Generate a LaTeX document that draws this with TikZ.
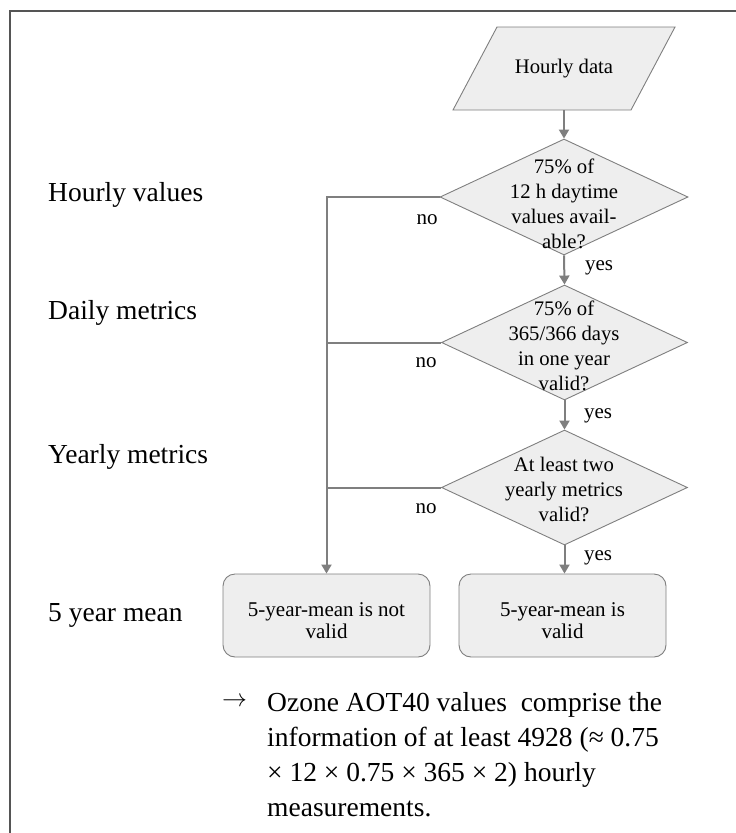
\documentclass[tikz,border=0pt]{standalone}
\usepackage{fontspec}
\setmainfont{Liberation Serif}
\usetikzlibrary{shapes.geometric,arrows.meta}
\definecolor{boxfill}{HTML}{EEEEEE}
\definecolor{lgray}{HTML}{7F7F7F}
\definecolor{fgray}{HTML}{555555}
\begin{document}
\begin{tikzpicture}[x=1pt,y=-1pt,
 decision/.style={shape=diamond, draw=lgray, fill=boxfill, line width=0.9pt, minimum width=246pt, minimum height=115pt, inner sep=0pt},
 dtext/.style={align=center, font=\fontsize{20.7}{25}\selectfont, inner sep=0pt},
 endbox/.style={rectangle, rounded corners=12pt, draw=lgray, fill=boxfill, line width=0.9pt, minimum width=207pt, minimum height=83pt, align=center, text height=46pt, font=\fontsize{21}{22}\selectfont},
 flow/.style={draw=lgray, line width=2pt, -{Triangle[width=10pt,length=9pt]}},
 joinline/.style={draw=lgray, line width=2pt},
 side/.style={anchor=west, font=\fontsize{27.5}{30}\selectfont, inner sep=0pt},
 small/.style={font=\fontsize{21}{24}\selectfont, inner sep=0pt}]
\useasboundingbox (0,0) rectangle (736,833);
% frame
\draw[fgray, line width=2pt] (10,833) -- (10,11) -- (736,11);

% start parallelogram
\draw[draw=lgray, fill=boxfill, line width=0.9pt] (497,27) -- (675,27) -- (631,110) -- (453,110) -- cycle;
\node[dtext] (hd) at (564,68.5) {Hourly data};
\coordinate (hdb) at (564,110);

% decisions
\node[decision, minimum width=248pt, minimum height=116pt] (d1) at (564,197) {};
\node[dtext] (t1) at (564,204) {75\% of\\12 h daytime\\values avail-\\able?};
\node[decision] (d2) at (564.5,342.5) {};
\node[dtext] (t2) at (564,346) {75\% of\\365/366 days\\in one year\\valid?};
\node[decision] (d3) at (564.5,487.5) {};
\node[dtext] (t3) at (564,489) {At least two\\yearly metrics\\valid?};

% end boxes
\node[endbox] (b1) at (326.5,615.5) {5-year-mean is not\\valid};
\node[endbox] (b2) at (562.5,615.5) {5-year-mean is\\valid};

% connectors
\draw[flow] (hdb) -- (d1.north);
\draw[flow] (d1.south) -- (d2.north);
\draw[flow] (d2.south) -- (d3.north);
\draw[flow] (d3.south) -- (d3.south |- b2.north);
\draw[flow] (d1.west) -- (d1.west -| b1.north) -- (b1.north);
\draw[joinline] (d2.west) -- (d2.west -| b1.north);
\draw[joinline] (d3.west) -- (d3.west -| b1.north);

% branch labels
\node[small] (n1) at (427,220) {no};
\node[small] (n2) at (426,363) {no};
\node[small] (n3) at (426,509) {no};
\node[small] (y1) at (599,268) {yes};
\node[small] (y2) at (598,416) {yes};
\node[small] (y3) at (598,558) {yes};

% side labels
\node[side] (l1) at (48,195) {Hourly values};
\node[side] (l2) at (48,313) {Daily metrics};
\node[side] (l3) at (48,457) {Yearly metrics};
\node[side] (l4) at (48,615) {5 year mean};

% note
\node[anchor=west, inner sep=0pt, font=\fontsize{27.5}{35}\selectfont] (arr) at (222,702) {$\rightarrow$};
\node[anchor=north west, inner sep=0pt, align=left, font=\fontsize{27.5}{35}\selectfont] (note) at (267,692)
 {Ozone AOT40 values \ comprise the\\information of at least 4928 (≈ 0.75\\× 12 × 0.75 × 365 × 2) hourly\\measurements.};
\end{tikzpicture}
\end{document}
